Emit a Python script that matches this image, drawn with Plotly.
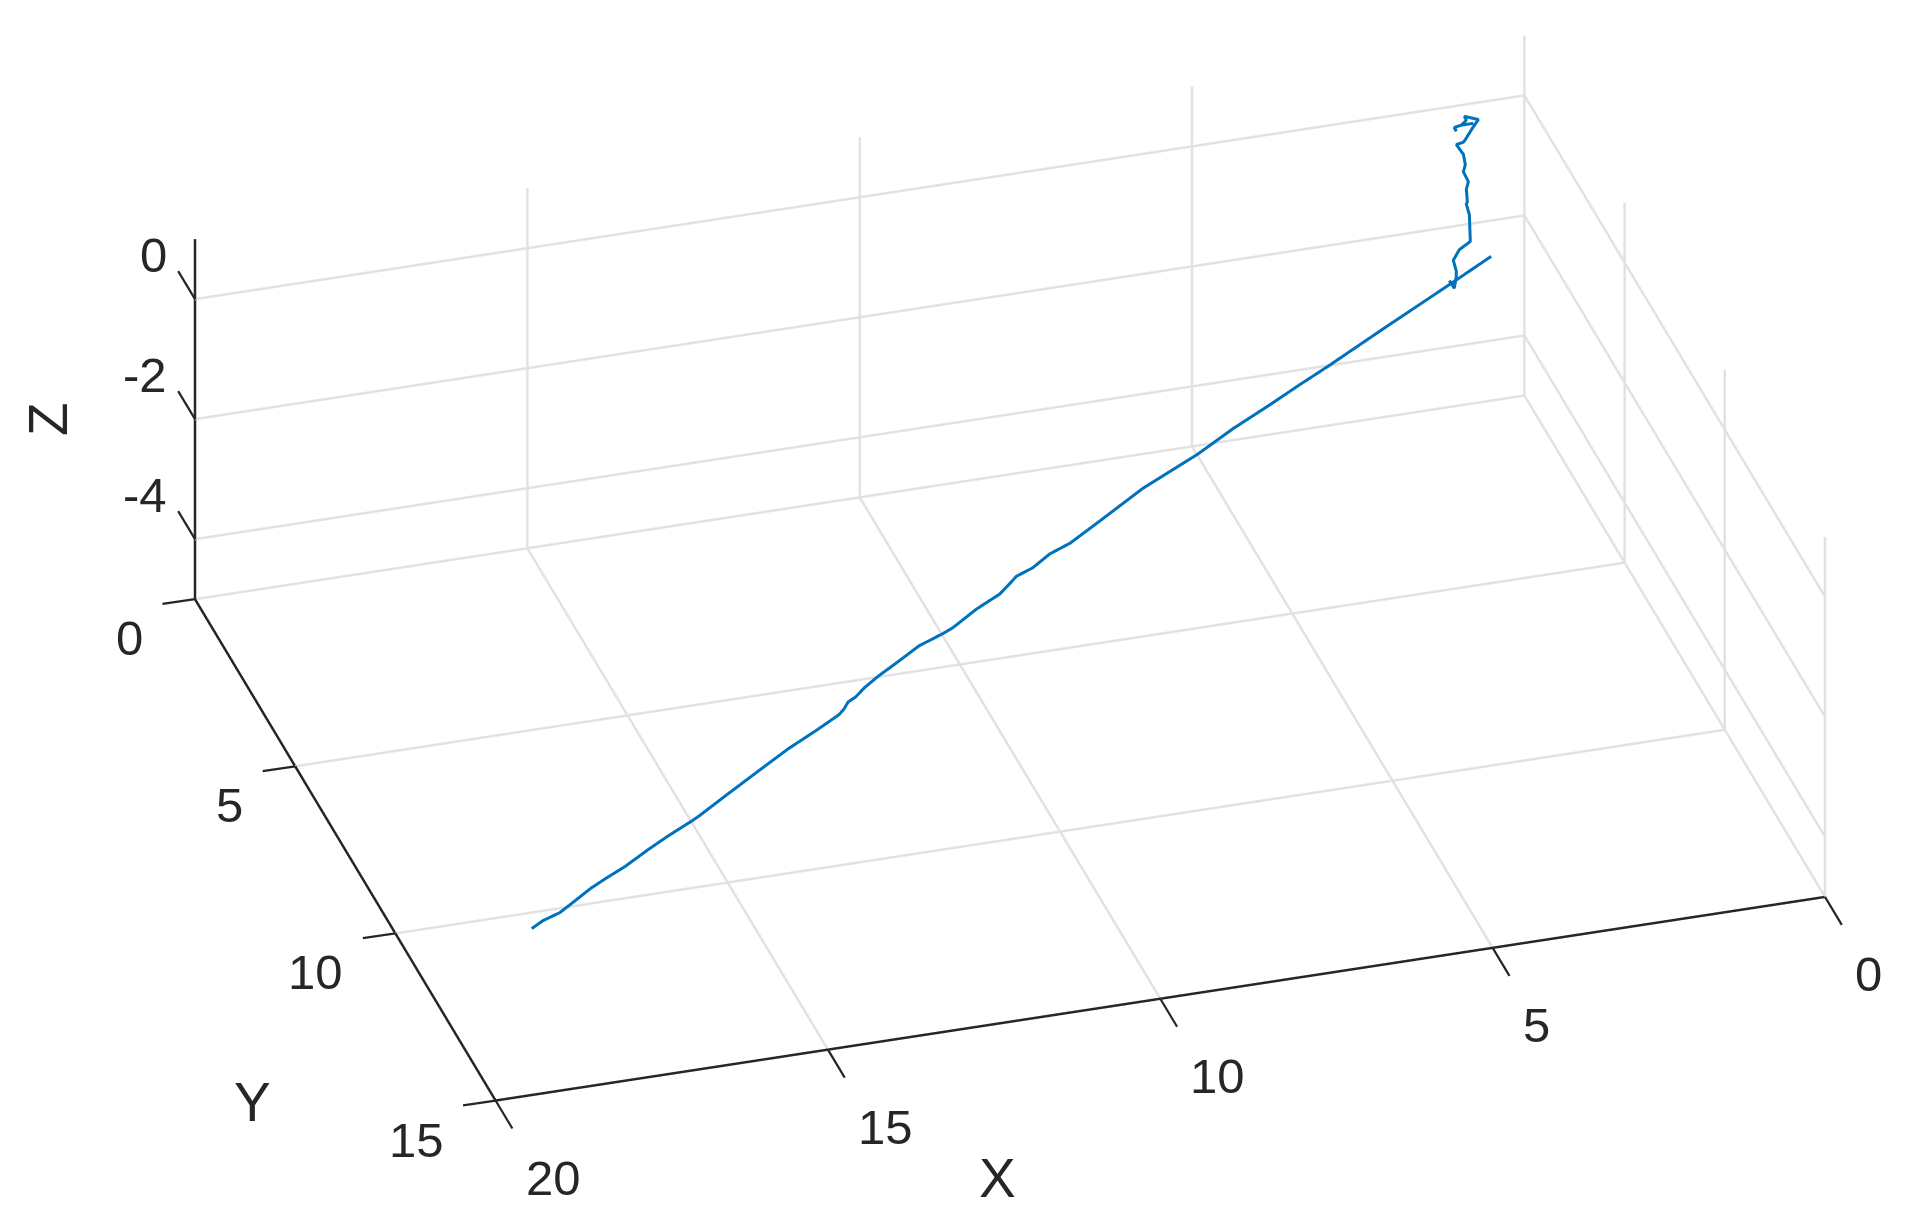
import plotly.graph_objects as go

path_x = [1.245,1.275,1.17,0.989,1.17,1.094,1.124,0.913,1.004,1.109,1.139,1.245,1.139,1.109,1.139,1.064,1.094,1.079,1.094,1.049,1.034,1.2,1.29,1.245,1.245,1.275,1.35,1.32,
          0.55,1.32,1.84,2.62,3.71,4.23,4.87,5.52,6.23,7.26,8.13,8.72,9.09,9.44,9.73,9.89,10.11,10.55,11.04,11.23,11.65,12.05,12.45,12.75,12.94,13.09,13.20,13.32,13.77,14.30,14.89,15.50,16.10,16.25,16.67,17.07,17.52,17.89,18.18,18.54,18.80,19.10,19.32]
path_y = [0.73]*28 + [0.16,0.73,1.11,1.68,2.49,2.86,3.33,3.79,4.35,5.05,5.77,6.25,6.46,6.77,6.93,7.11,7.35,7.66,8.08,8.20,8.43,8.76,9.08,9.35,9.56,9.67,9.84,9.98,10.32,10.70,11.18,11.68,12.18,12.29,12.58,12.88,13.24,13.49,13.70,14.01,14.23,14.38,14.55]
path_z = [0.02,0.09,0.11,0.11,0.11,0.18,0.25,0.16,0.03,-0.14,-0.18,-0.20,-0.38,-0.56,-0.67,-0.85,-0.97,-1.18,-1.22,-1.40,-1.85,-1.96,-2.12,-2.31,-2.40,-2.59,-2.45,-2.5] + [-2.5]*43

x_ticks = [0,5,10,15,20]
y_ticks = [0,5,10,15]
z_ticks = [-4,-2,0]
x_lim = [0,20]
y_lim = [0,15]
z_lim = [-5,1]
PAD = 0.03   # keeps box-edge lines from being clipped by the scene bounds
FONT = "Liberation Sans"
INK = "#262626"

def axis(r, t):
    return dict(range=[r[0]-PAD, r[1]+PAD], tickvals=t, autorange=False, showgrid=False, showline=False,
                ticks="", showticklabels=False, zeroline=False,
                showbackground=False, showspikes=False, title=dict(text=""))

# Grid lines on the floor and the two back walls, built from the tick arrays
gx, gy, gz = [], [], []
def seg(a, b):
    gx.extend([a[0], b[0], None]); gy.extend([a[1], b[1], None]); gz.extend([a[2], b[2], None])
for v in x_ticks:
    seg((v, y_lim[1], z_lim[0]), (v, 0, z_lim[0]))
    if v != x_lim[1]:
        seg((v, 0, z_lim[0]), (v, 0, z_lim[1]))
for v in y_ticks:
    seg((x_lim[1], v, z_lim[0]), (0, v, z_lim[0]))
    seg((0, v, z_lim[0]), (0, v, z_lim[1]))
for v in z_ticks:
    seg((x_lim[1], 0, v), (0, 0, v))
    seg((0, 0, v), (0, y_lim[1], v))

fig = go.Figure()
fig.add_trace(go.Scatter3d(x=gx, y=gy, z=gz, mode="lines", hoverinfo="skip", showlegend=False,
                           line=dict(color="#e2e2e2", width=5)))
fig.add_trace(go.Scatter3d(x=[0,20,20,None,20,20], y=[15,15,0,None,0,0], z=[-5,-5,-5,None,-5,1],
                           mode="lines", hoverinfo="skip", showlegend=False,
                           line=dict(color=INK, width=5)))
fig.add_trace(go.Scatter3d(x=path_x, y=path_y, z=path_z, mode="lines",
                           line=dict(color="#0072BD", width=6), showlegend=False))

lab = dict(showarrow=False, font=dict(family=FONT, size=55, color=INK))
tick = dict(showarrow=False, font=dict(family=FONT, size=49, color=INK))
mark = dict(text=" ", showarrow=True, arrowhead=0, arrowwidth=2.2, arrowcolor=INK, font=dict(size=1))
notes = [dict(x=v,y=15,z=-5,text=str(v),xanchor="left",xshift=28,yshift=-77,**tick) for v in x_ticks]
notes += [dict(x=20,y=v,z=-5,text=str(v),xanchor="right",xshift=-50,yshift=-39,**tick) for v in y_ticks]
notes += [dict(x=20,y=0,z=v,text=str(v),xanchor="right",xshift=-26,yshift=44,**tick) for v in z_ticks]
notes += [dict(x=v,y=15,z=-5,ax=18,ay=30,**mark) for v in x_ticks]
notes += [dict(x=20,y=v,z=-5,ax=-34,ay=5,**mark) for v in y_ticks]
notes += [dict(x=20,y=0,z=v,ax=-18,ay=-30,**mark) for v in z_ticks]
notes += [
    dict(x=15,y=15,z=-5,text="X",xshift=170,yshift=-128,**lab),
    dict(x=20,y=15,z=-5,text="Y",xshift=-243,yshift=-1,**lab),
    dict(x=20,y=0,z=-2,text="Z",textangle=-90,xshift=-147,**lab),
]
fig.update_layout(
    width=1913, height=1227, margin=dict(l=0, r=0, t=0, b=0), paper_bgcolor="white",
    scene=dict(
        domain=dict(x=[107/1913,1], y=[1-1134/1227,1]),
        xaxis=axis(x_lim, x_ticks), yaxis=axis(y_lim, y_ticks), zaxis=axis(z_lim, z_ticks),
        aspectmode="manual",
        aspectratio=dict(x=2.450*(20+2*PAD)/20, y=1.828*(15+2*PAD)/15, z=0.736*(6+2*PAD)/6),
        camera=dict(projection=dict(type="orthographic"),
                    center=dict(x=-0.0135,y=0.0041,z=-0.0143),
                    up=dict(x=0,y=0,z=1), eye=dict(x=0.9865,y=3.3041,z=2.0057)),
        annotations=notes,
    ),
)
fig.write_html("out.html")
